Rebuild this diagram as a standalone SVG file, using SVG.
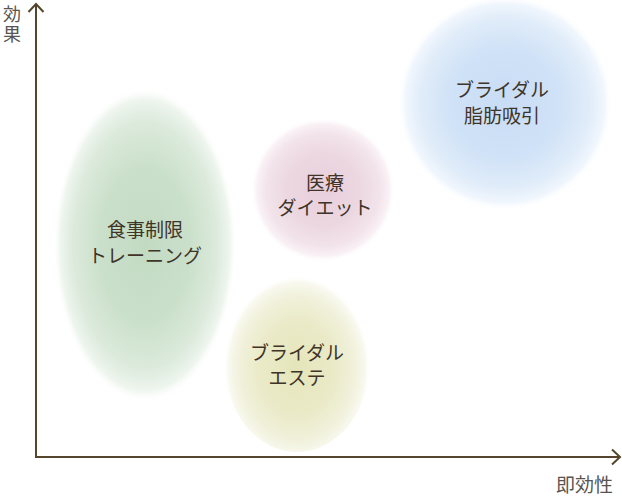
<svg xmlns="http://www.w3.org/2000/svg" width="622" height="497" viewBox="0 0 622 497">
<defs>
<radialGradient id="gGreen" cx="0.5" cy="0.5" r="0.5">
<stop offset="0" stop-color="#c2dac2"/>
<stop offset="0.5" stop-color="#cbe0cb"/>
<stop offset="0.78" stop-color="#dceadc"/>
<stop offset="0.92" stop-color="#eef5ee"/>
<stop offset="1" stop-color="#ffffff" stop-opacity="0"/>
</radialGradient>
<radialGradient id="gPink" cx="0.5" cy="0.5" r="0.5">
<stop offset="0" stop-color="#e8cfdb"/>
<stop offset="0.5" stop-color="#ecd7e1"/>
<stop offset="0.78" stop-color="#f2e3ea"/>
<stop offset="0.92" stop-color="#f9f1f5"/>
<stop offset="1" stop-color="#ffffff" stop-opacity="0"/>
</radialGradient>
<radialGradient id="gYellow" cx="0.5" cy="0.55" r="0.5">
<stop offset="0" stop-color="#e5e5bb"/>
<stop offset="0.5" stop-color="#eaeac8"/>
<stop offset="0.78" stop-color="#f1f1dc"/>
<stop offset="0.92" stop-color="#f8f8ee"/>
<stop offset="1" stop-color="#ffffff" stop-opacity="0"/>
</radialGradient>
<radialGradient id="gBlue" cx="0.5" cy="0.5" r="0.5">
<stop offset="0" stop-color="#c8dcf5"/>
<stop offset="0.5" stop-color="#d0e2f7"/>
<stop offset="0.78" stop-color="#e0ecf9"/>
<stop offset="0.92" stop-color="#f0f6fd"/>
<stop offset="1" stop-color="#ffffff" stop-opacity="0"/>
</radialGradient>
</defs>
<style>
.lbl{font-family:"Noto Sans CJK JP","Noto Sans",sans-serif;font-size:19px;fill:#3f3428;text-anchor:middle;dominant-baseline:central;}
.ax{font-family:"Noto Sans CJK JP","Noto Sans",sans-serif;font-size:19px;fill:#5a5550;}
.axv{font-family:"Noto Sans CJK JP","Noto Sans",sans-serif;font-size:18px;fill:#5a5550;writing-mode:vertical-rl;}
.axis{stroke:#54452c;stroke-width:2;fill:none;}
</style>
<rect width="622" height="497" fill="#ffffff"/>
<g id="node-green">
<ellipse cx="145" cy="245" rx="92" ry="158" fill="url(#gGreen)"/>
<text class="lbl" x="145" y="228">食事制限</text>
<text class="lbl" x="145" y="254">トレーニング</text>
</g>
<g id="node-pink">
<ellipse cx="323" cy="190" rx="72" ry="72" fill="url(#gPink)"/>
<text class="lbl" x="325" y="181">医療</text>
<text class="lbl" x="325" y="206">ダイエット</text>
</g>
<g id="node-yellow">
<ellipse cx="297" cy="359" rx="74" ry="93" fill="url(#gYellow)"/>
<text class="lbl" x="297" y="351">ブライダル</text>
<text class="lbl" x="297" y="376">エステ</text>
</g>
<g id="node-blue">
<ellipse cx="505" cy="103" rx="108" ry="108" fill="url(#gBlue)"/>
<text class="lbl" x="502" y="88">ブライダル</text>
<text class="lbl" x="502" y="114">脂肪吸引</text>
</g>
<g id="connectors">
<path class="axis" d="M36 4 V457 H620"/>
<path class="axis" d="M28.5 12 L36 4 L43.5 12"/>
<path class="axis" d="M612 449.5 L620 457 L612 464.5"/>
</g>
<g id="axis-labels">
<text class="axv" x="12" y="5" letter-spacing="2">効果</text>
<text class="ax" x="556" y="492">即効性</text>
</g>
</svg>
